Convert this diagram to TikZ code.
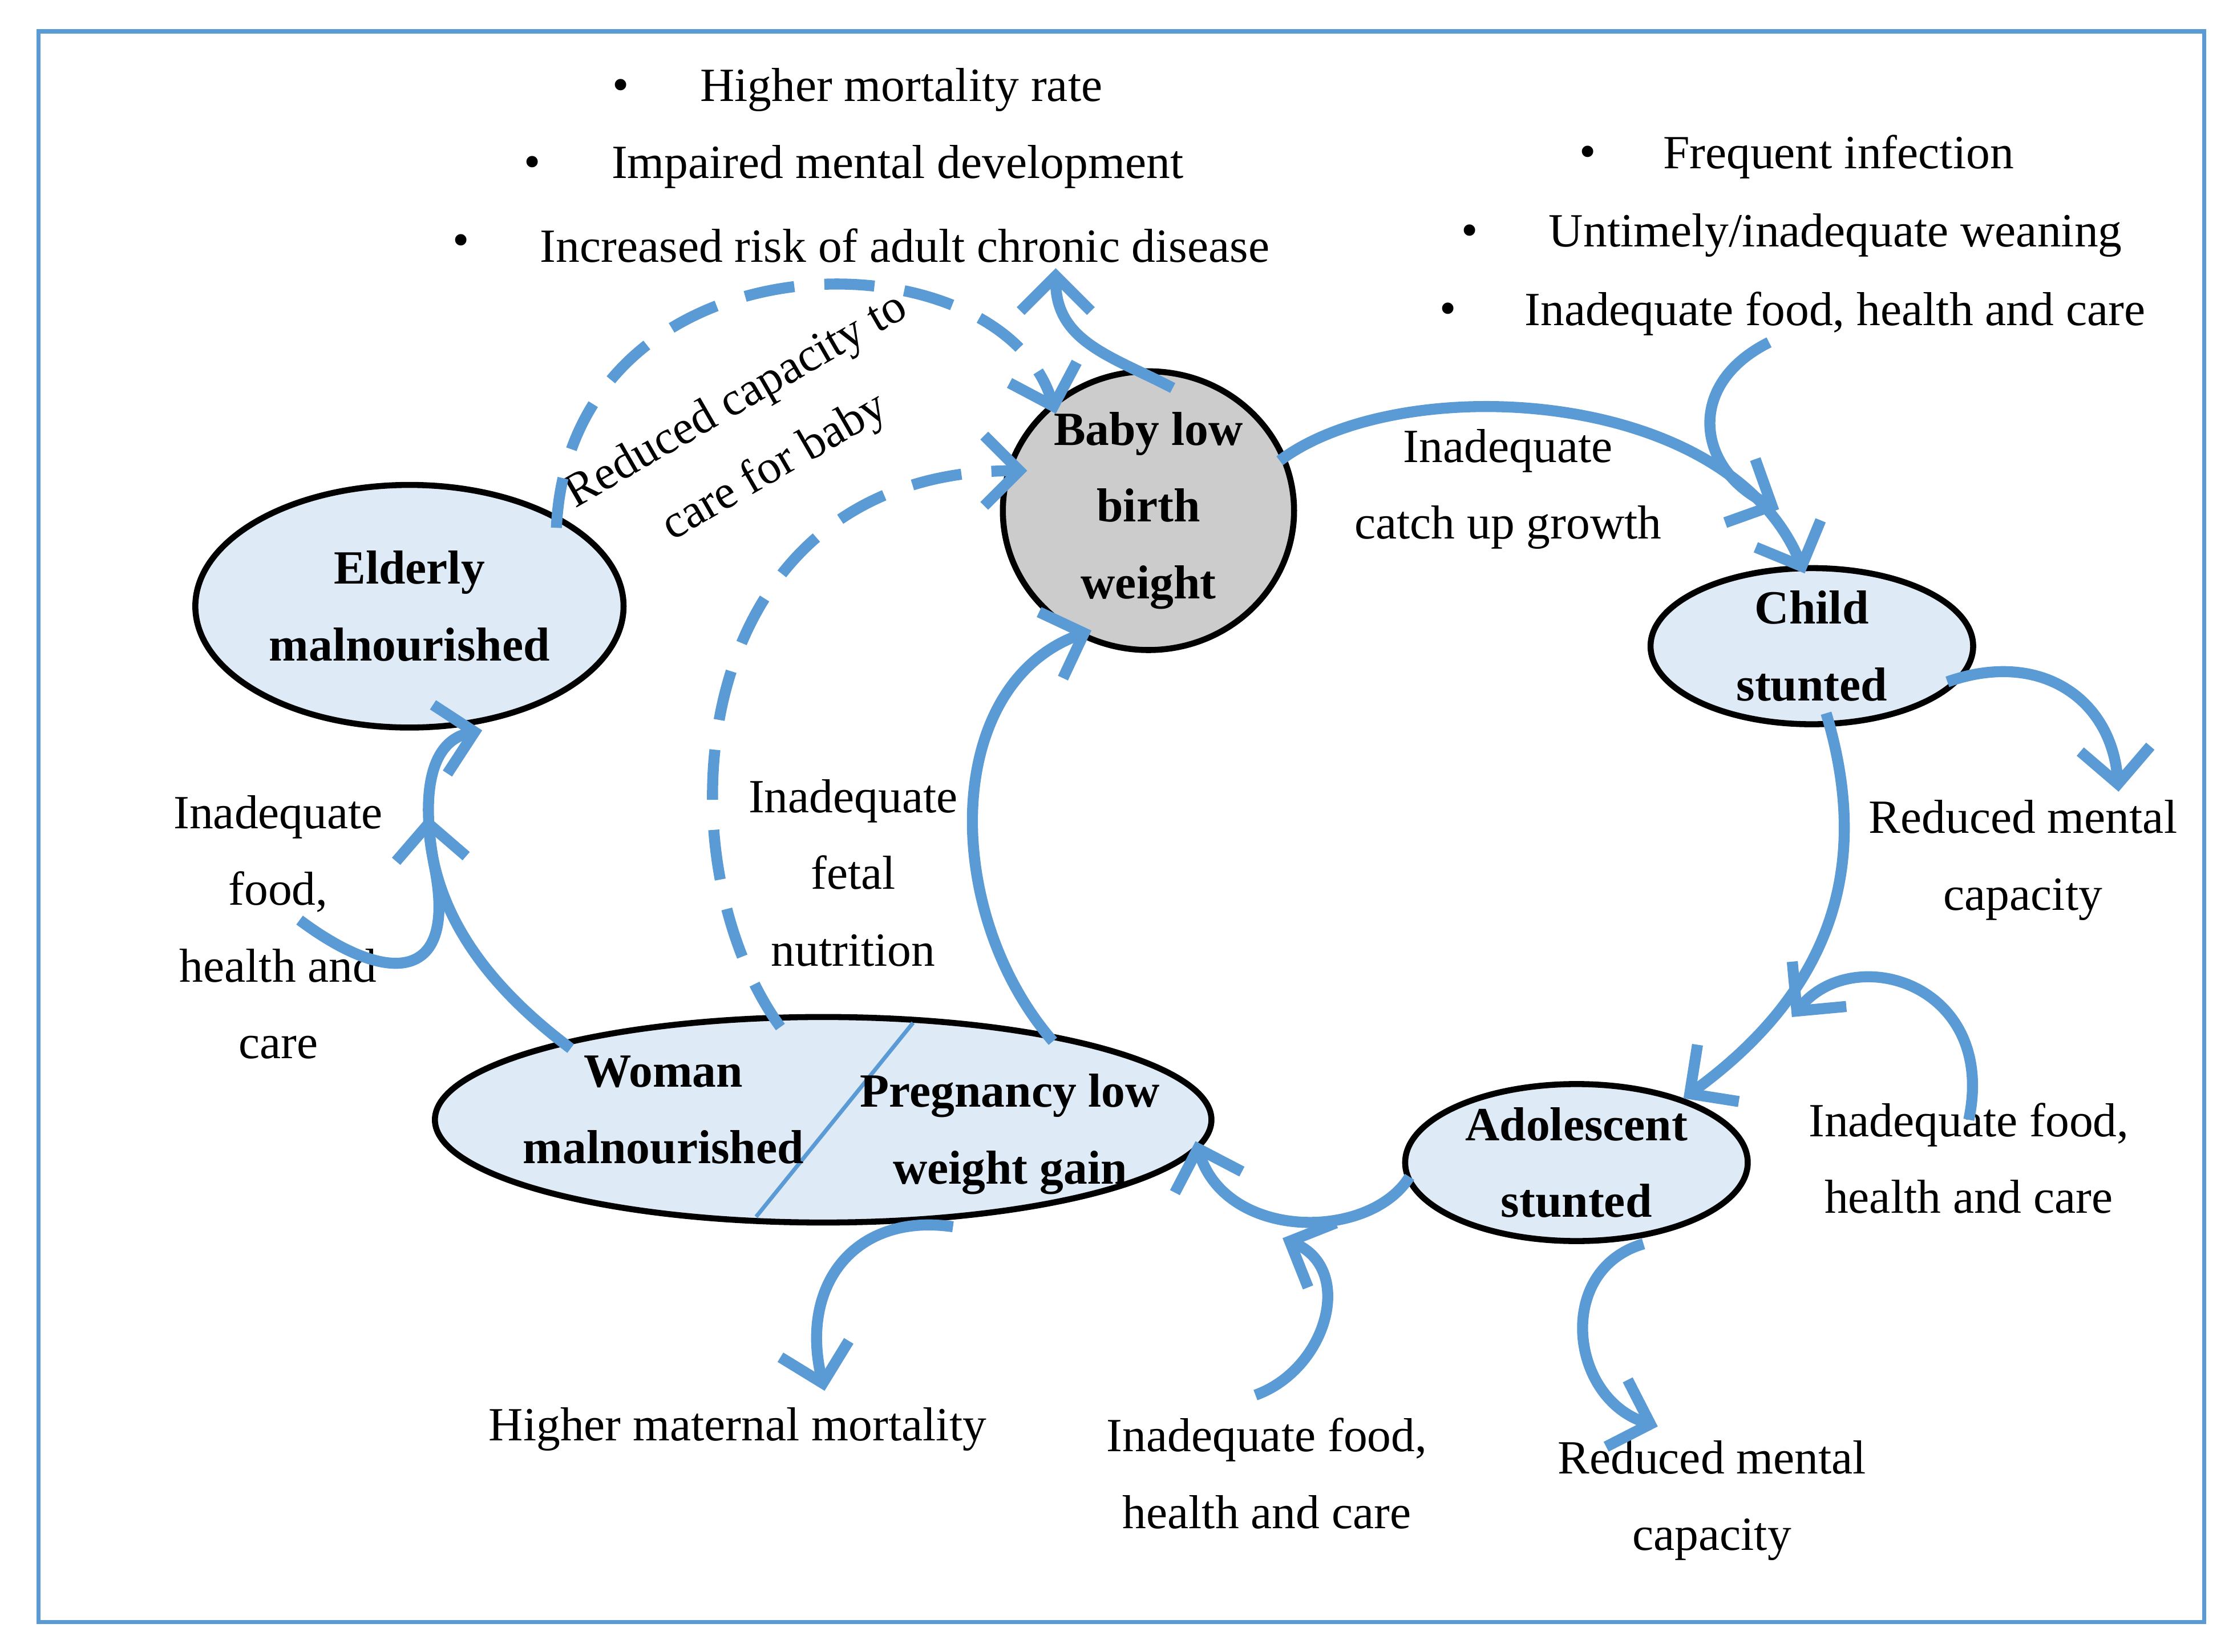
\documentclass[tikz,border=0pt]{standalone}
\usepackage{fontspec}
\setmainfont{Liberation Serif}
\usetikzlibrary{arrows.meta,shapes,positioning}
\definecolor{cycleblue}{HTML}{5B9BD5}
\definecolor{paleblue}{HTML}{DEEAF6}
\tikzstyle{stage} = [ellipse, draw, line width=1.2pt, fill=paleblue, align=center,
    font=\fontsize{9.5}{15.3}\selectfont\bfseries, inner sep=0pt]
\tikzstyle{line} = [draw=cycleblue, line width=2.2pt, -{Straight Barb[length=7pt,width=14pt]}]
\tikzstyle{dline} = [line, dash pattern=on 10pt off 6pt]
\tikzstyle{note} = [align=center]

\begin{document}
\begin{tikzpicture}[x=0.01cm,y=-0.01cm]
\tikzstyle{every node}=[font=\fontsize{9.5}{15.3}\selectfont]
    \useasboundingbox (0,0) rectangle (1568,1158);
    \draw[cycleblue, line width=0.8pt] (27,22) rectangle (1545,1137);
    % Place nodes
    \node [stage, fill=black!20, minimum width=2.04cm, minimum height=1.7cm] (baby) at (805,358) {Baby low\\birth\\weight};
    \node [stage, minimum width=3cm, minimum height=1.7cm] (elderly) at (287,425) {Elderly\\malnourished};
    \node [stage, minimum width=2.26cm, minimum height=0.96cm] (child) at (1270,453) {Child\\stunted};
    \node [stage, minimum width=2.4cm, minimum height=1.1cm] (adol) at (1105,815) {Adolescent\\stunted};
    \node [stage, minimum width=5.44cm, minimum height=1.44cm] (woman) at (577,785) {};
    \draw [cycleblue, line width=0.8pt] (640,717) -- (530,853);
    \node [note, font=\fontsize{9.5}{15.3}\selectfont\bfseries] (wtext) at (465,778) {Woman\\malnourished};
    \node [note, font=\fontsize{9.5}{15.3}\selectfont\bfseries] (ptext) at (708,795) {Pregnancy low\\weight gain};
    % Texts
    \foreach \bx/\tx/\ty/\txt in {435/490/63/Higher mortality rate, 373/428/117/Impaired mental development,
        323/378/172/Increased risk of adult chronic disease, 1113/1165/110/Frequent infection,
        1030/1085/165/Untimely\slash inadequate weaning, 1015/1068/220/{Inadequate food, health and care}}
      {\node at (\bx,\ty) {\textbullet}; \node [anchor=west, inner sep=0pt] at (\tx,\ty) {\txt};}
    \node [note] (catch) at (1057,343) {Inadequate\\catch up growth};
    \node [note, rotate=30] (care) at (530,305) {Reduced capacity to\\care for baby};
    \node [note] (fetal) at (598,612) {Inadequate\\fetal\\nutrition};
    \node [note] (foodl) at (195,650) {Inadequate\\food,\\health and\\care};
    \node [note] (ment1) at (1418,603) {Reduced mental\\capacity};
    \node [note] (foodr) at (1380,812) {Inadequate food,\\health and care};
    \node [note] (ment2) at (1200,1052) {Reduced mental\\capacity};
    \node [note] (foodb) at (888,1033) {Inadequate food,\\health and care};
    \node [note] (morta) at (517,1002) {Higher maternal mortality};
    \coordinate (tip1) at (740,188);
    \coordinate (tip2) at (1247,357);
    \coordinate (tip3) at (300,572);
    \coordinate (tip4) at (1256,713);
    \coordinate (tip5) at (899,868);
    \coordinate (tip6) at (1180,770);
    \coordinate (tip7) at (838,800);
    % Draw edges
    \path [line] (897,323) .. controls (980,260) and (1210,270) .. (1265,402);
    \path [line] (1240,240) .. controls (1180,270) and (1190,330) .. (tip2);
    \path [line] (1280,500) .. controls (1310,600) and (1290,690) .. (tip6);
    \path [line] (988,825) .. controls (960,870) and (860,870) .. (tip7);
    \path [line] (738,730) .. controls (660,640) and (660,480) .. (765,442);
    \path [line] (400,735) .. controls (340,690) and (305,640) .. (tip3);
    \path [line] (210,645) .. controls (270,690) and (320,690) .. (305,610) .. controls (295,560) and (300,520) .. (338,512);
    \path [dline] (390,370) .. controls (400,160) and (700,160) .. (740,290);
    \path [dline] (547,720) .. controls (460,600) and (480,330) .. (720,330);
    \path [line] (822,272) .. controls (780,250) and (740,240) .. (tip1);
    \path [line] (668,860) .. controls (600,850) and (560,900) .. (578,975);
    \path [line] (1365,478) .. controls (1430,455) and (1480,490) .. (1485,555);
    \path [line] (1380,785) .. controls (1400,690) and (1300,660) .. (tip4);
    \path [line] (1152,872) .. controls (1090,890) and (1100,980) .. (1162,1000);
    \path [line] (880,978) .. controls (930,960) and (950,890) .. (tip5);
\end{tikzpicture}
\end{document}
